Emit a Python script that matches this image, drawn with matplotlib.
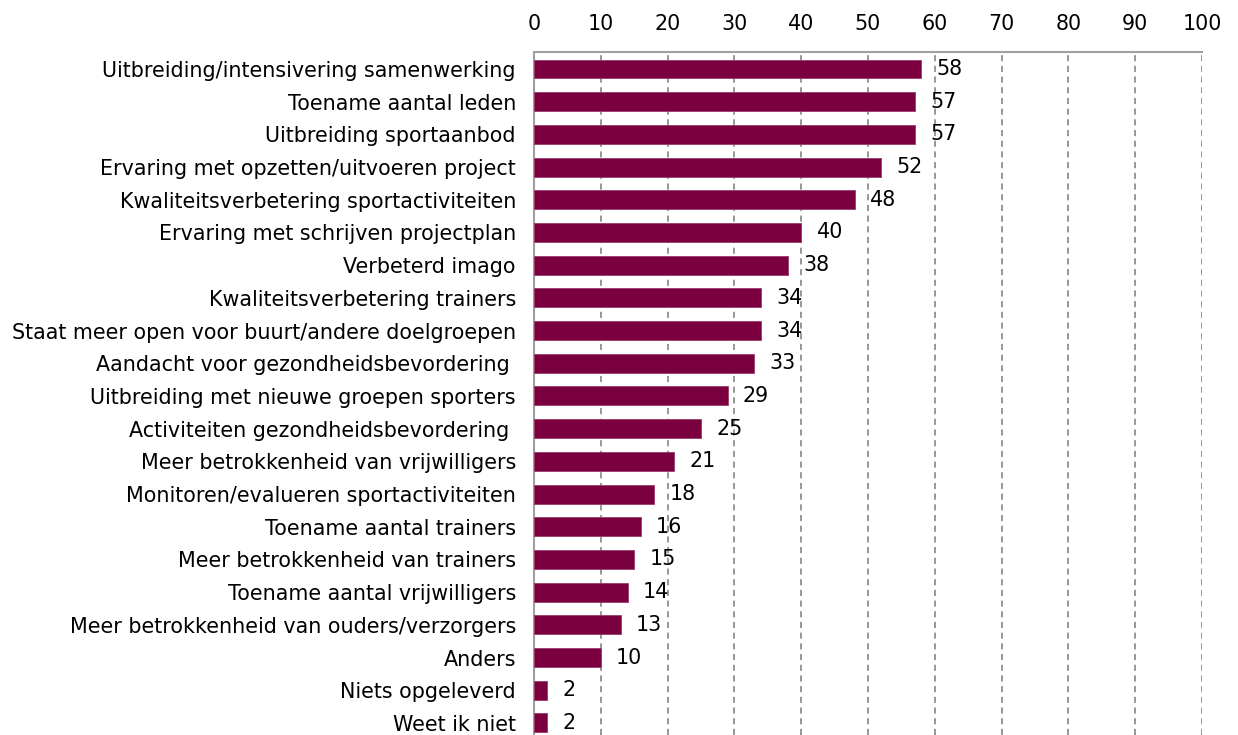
import matplotlib.pyplot as plt
import numpy as np

categories = [
    "Uitbreiding/intensivering samenwerking",
    "Toename aantal leden",
    "Uitbreiding sportaanbod",
    "Ervaring met opzetten/uitvoeren project",
    "Kwaliteitsverbetering sportactiviteiten",
    "Ervaring met schrijven projectplan",
    "Verbeterd imago",
    "Kwaliteitsverbetering trainers",
    "Staat meer open voor buurt/andere doelgroepen",
    "Aandacht voor gezondheidsbevordering ",
    "Uitbreiding met nieuwe groepen sporters",
    "Activiteiten gezondheidsbevordering ",
    "Meer betrokkenheid van vrijwilligers",
    "Monitoren/evalueren sportactiviteiten",
    "Toename aantal trainers",
    "Meer betrokkenheid van trainers",
    "Toename aantal vrijwilligers",
    "Meer betrokkenheid van ouders/verzorgers",
    "Anders",
    "Niets opgeleverd",
    "Weet ik niet",
]
values = [58, 57, 57, 52, 48, 40, 38, 34, 34, 33, 29, 25, 21, 18, 16, 15, 14, 13, 10, 2, 2]
ticks = list(range(0, 101, 10))

bar_color = "#7A003F"
grid_color = "#7A7A7A"
fs = 14.9

fig = plt.figure(figsize=(12.38, 7.35), dpi=100)
ax = fig.add_axes([534 / 1238, 0.0, (1202 - 534) / 1238, (735 - 52) / 735])

y = np.arange(len(categories))
ax.barh(y, values, height=0.58, color=bar_color, edgecolor="#9A3A6A", linewidth=0.6, zorder=3)

for yi, v in zip(y, values):
    ax.annotate(str(v), (v, yi), xytext=(11, 0), textcoords="offset points",
                va="center", ha="left", fontsize=fs, color="black", zorder=4)

ax.set_xlim(0, 100)
ax.set_ylim(20.37, -0.52)
ax.set_yticks(y)
ax.set_yticklabels(categories, fontsize=fs)
ax.set_xticks(ticks)
ax.xaxis.tick_top()
ax.tick_params(axis="x", labelsize=fs, length=0, pad=13)
ax.tick_params(axis="y", length=0, pad=13)

ax.grid(axis="x", color=grid_color, linestyle=(0, (4, 3)), linewidth=1.1, zorder=0)
for s in ["right", "bottom"]:
    ax.spines[s].set_visible(False)
for s in ["top", "left"]:
    ax.spines[s].set_color("#A0A0A0")
    ax.spines[s].set_linewidth(1.5)

fig.savefig("out.png", dpi=100)
